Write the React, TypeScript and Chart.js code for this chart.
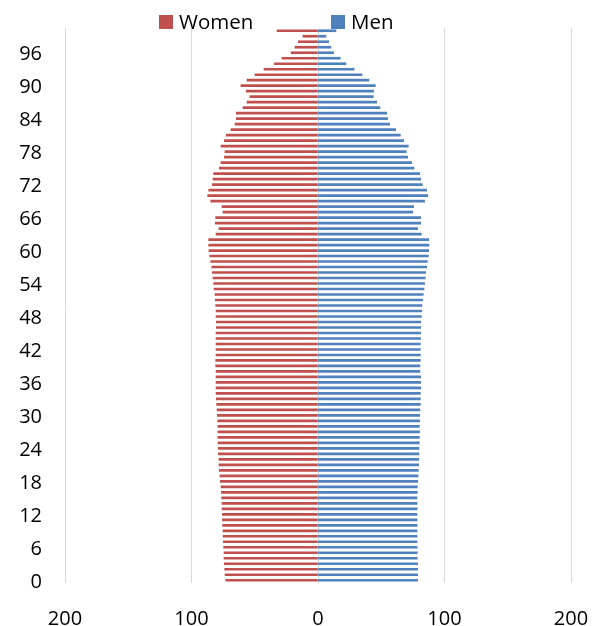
import React, { useEffect, useRef } from "react";
import { Chart, registerables } from "chart.js";

Chart.register(...registerables);

// Age categories 0..100
const ages: string[] = Array.from({ length: 101 }, (_, i) => String(i));

// Women (ages 0..100), shown on the left
const women: number[] = [
  73.0, 73.5, 73.8, 74.1, 74.3, 74.3, 74.6, 74.8, 75.1, 75.1,
  75.4, 75.6, 75.6, 75.9, 75.9, 76.2, 76.4, 76.7, 77.2, 77.5,
  78.0, 78.3, 78.3, 78.8, 78.8, 79.1, 79.1, 79.1, 79.1, 79.3,
  79.6, 79.8, 80.1, 80.4, 80.6, 80.6, 80.6, 80.6, 80.6, 80.9,
  80.9, 80.6, 80.6, 80.6, 80.6, 80.6, 80.4, 80.4, 80.6, 80.6,
  80.9, 81.2, 81.5, 82.2, 82.5, 83.0, 83.6, 84.0, 84.8, 85.6,
  86.2, 86.4, 86.4, 80.6, 78.3, 81.2, 80.9, 75.1, 75.9, 84.8,
  87.2, 86.4, 83.6, 83.0, 82.5, 78.0, 76.7, 74.0, 73.5, 76.7,
  74.1, 72.5, 68.8, 65.6, 64.6, 64.6, 59.3, 56.1, 53.8, 56.7,
  60.9, 56.1, 49.8, 42.7, 34.5, 28.5, 21.3, 18.2, 15.6, 11.9,
  32.4,
];

// Men (ages 0..100), shown on the right
const men: number[] = [
  78.8, 78.8, 78.8, 78.8, 78.5, 78.5, 78.3, 78.3, 78.3, 78.3,
  78.3, 78.3, 78.3, 78.3, 78.3, 78.3, 78.5, 78.5, 78.8, 79.1,
  79.3, 79.6, 79.6, 79.8, 79.8, 80.1, 80.1, 80.4, 80.1, 80.4,
  80.4, 80.6, 80.9, 80.9, 80.9, 81.2, 81.2, 81.2, 80.6, 80.6,
  80.9, 80.9, 80.9, 80.9, 81.2, 81.2, 81.2, 81.2, 81.7, 82.0,
  82.2, 82.7, 83.2, 83.8, 84.3, 84.8, 85.1, 85.9, 86.4, 87.2,
  87.5, 87.7, 87.5, 81.7, 78.8, 81.2, 81.2, 74.8, 75.6, 84.3,
  86.7, 85.9, 82.5, 81.2, 80.4, 75.9, 74.0, 70.9, 69.8, 71.4,
  67.7, 65.1, 61.4, 56.7, 55.1, 54.3, 49.0, 46.4, 43.7, 44.0,
  45.3, 40.3, 34.8, 28.5, 22.1, 17.6, 12.4, 10.3, 8.4, 6.3,
  14.2,
];

const seriesNames: string[] = ["Women", "Men"];
const xMin = -200;
const xMax = 200;
const xStep = 100;
const yLabelEvery = 6;

const FONT = '"Open Sans", "DejaVu Sans", sans-serif';
const WOMEN_COLOR = "#C0504D";
const MEN_COLOR = "#4F81BD";

const legendPlugin = {
  id: "customLegend",
  afterDraw(chart: any) {
    const ctx = chart.ctx as CanvasRenderingContext2D;
    const xs = [159, 331];
    ctx.save();
    ctx.font = `20.5px ${FONT}`;
    ctx.textBaseline = "alphabetic";
    ctx.textAlign = "left";
    chart.data.datasets.forEach((ds: any, i: number) => {
      const x = xs[i];
      ctx.fillStyle = ds.backgroundColor;
      ctx.fillRect(x, 15, 14, 14);
      ctx.fillStyle = "#000";
      ctx.fillText(ds.label, x + 20, 29);
    });
    ctx.restore();
  },
};

export default function App() {
  const ref = useRef<HTMLCanvasElement | null>(null);

  useEffect(() => {
    if (!ref.current) return;
    const chart = new Chart(ref.current, {
      type: "bar",
      data: {
        labels: ages,
        datasets: [
          {
            label: seriesNames[0],
            data: women.map((v) => -v),
            backgroundColor: WOMEN_COLOR,
            barThickness: 2,
          },
          {
            label: seriesNames[1],
            data: men,
            backgroundColor: MEN_COLOR,
            barThickness: 2,
          },
        ],
      },
      options: {
        indexAxis: "y",
        responsive: false,
        animation: false,
        layout: { padding: { top: 28, right: 22, left: 0, bottom: 0 } },
        plugins: {
          legend: { display: false },
          tooltip: { enabled: false },
        },
        scales: {
          x: {
            type: "linear",
            min: xMin,
            max: xMax,
            stacked: true,
            ticks: {
              stepSize: xStep,
              callback: (v: any) => String(Math.abs(Number(v))),
              color: "#000",
              font: { family: FONT, size: 20 },
              padding: 24,
              maxRotation: 0,
            },
            grid: { color: "#D9D9D9", drawTicks: false, lineWidth: 1 },
            border: { display: false },
            afterFit: (s: any) => {
              s.height = 43;
              s.paddingLeft = 0;
              s.paddingRight = 0;
            },
          },
          y: {
            type: "category",
            stacked: true,
            reverse: true,
            ticks: {
              autoSkip: false,
              callback: (_v: any, i: number) => (i % yLabelEvery === 0 ? ages[i] : ""),
              color: "#000",
              font: { family: FONT, size: 20 },
              padding: 23,
              labelOffset: 2,
            },
            grid: { display: false, drawTicks: false },
            border: { display: false },
            afterFit: (s: any) => {
              s.width = 65;
              s.paddingTop = 0;
              s.paddingBottom = 0;
            },
          },
        },
      } as any,
      plugins: [legendPlugin],
    });
    return () => chart.destroy();
  }, []);

  return (
    <div style={{ position: "absolute", left: 0, top: 0, width: 593, height: 626, background: "#fff" }}>
      <canvas ref={ref} width={593} height={626} style={{ display: "block" }} />
    </div>
  );
}
